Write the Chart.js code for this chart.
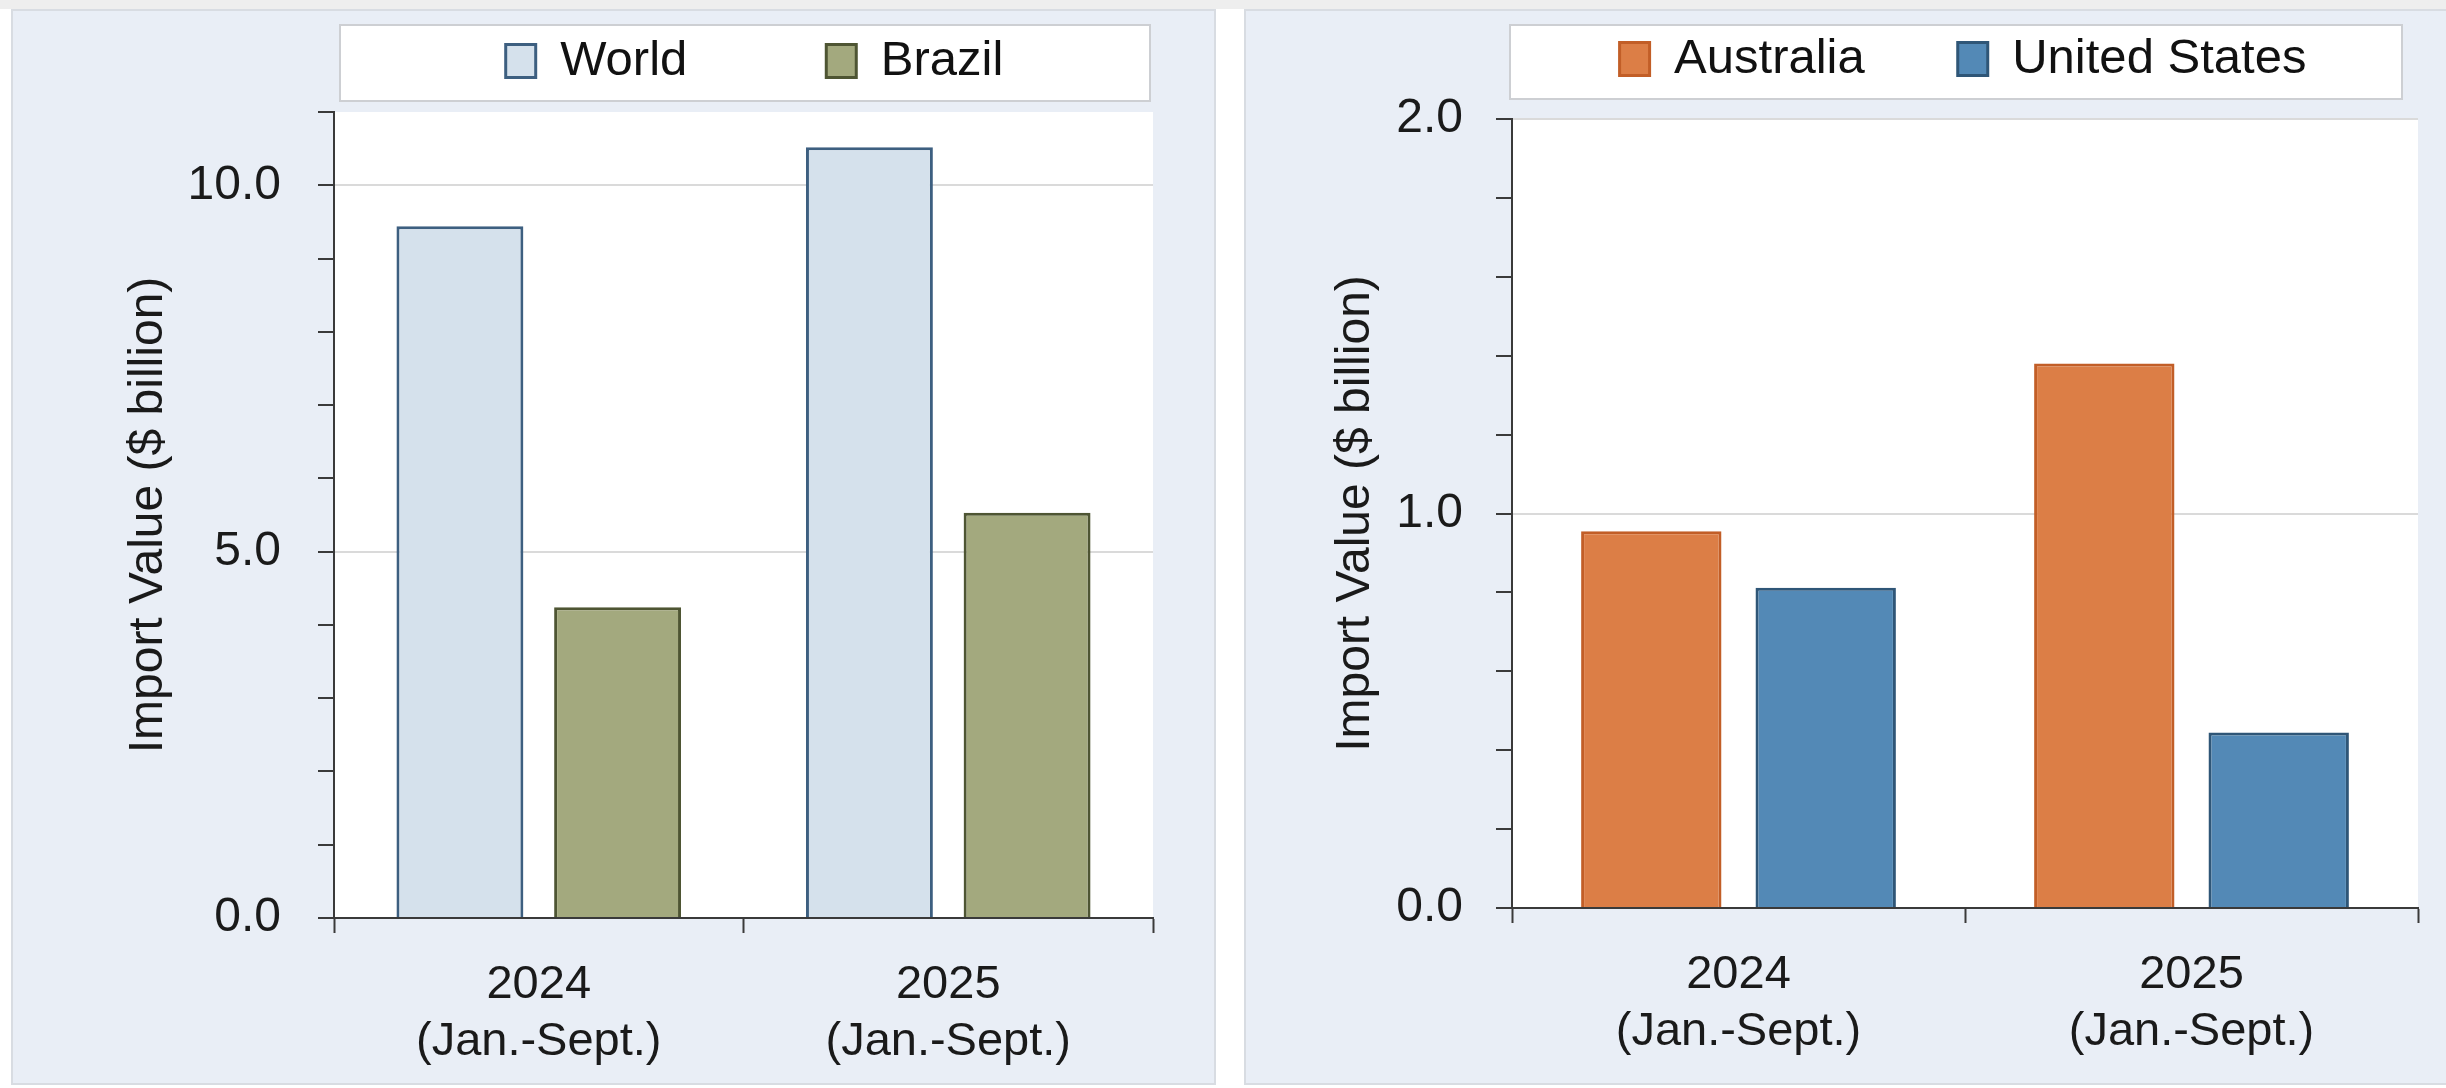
<!DOCTYPE html>
<html>
<head>
<meta charset="utf-8">
<title>Import Value</title>
<script src="https://cdn.jsdelivr.net/npm/chart.js@4.4.1/dist/chart.umd.min.js"></script>
<style>
  html, body { margin: 0; padding: 0; background: #ffffff; }
  body { width: 2446px; height: 1088px; position: relative; overflow: hidden; }
  .strip { position: absolute; left: 0; top: 0; width: 2446px; height: 9px; background: #eeeeee; }
  .panel { position: absolute; top: 9px; height: 1076px; background: #e9eef6; border: 2px solid #d8dce2; box-sizing: border-box; }
  #panelLeft { left: 11px; width: 1205px; }
  #panelRight { left: 1244px; width: 1204px; }
  canvas { position: absolute; top: 10px; }
  #leftChart { left: 12px; }
  #rightChart { left: 1245px; }
</style>
</head>
<body>
<div class="strip"></div>
<div class="panel" id="panelLeft"></div>
<div class="panel" id="panelRight"></div>
<canvas id="leftChart" width="1202" height="1074"></canvas>
<canvas id="rightChart" width="1197" height="1074"></canvas>
<script>
// periods on the x axis
const periodYears = ['2024', '2025'];
const periodNote = '(Jan.-Sept.)';

// left chart, $ billion
const worldValues = [9.44, 10.52];
const brazilValues = [4.24, 5.53];

// right chart, $ billion
const australiaValues = [0.955, 1.38];
const unitedStatesValues = [0.812, 0.445];

const leftTicks = { max: 11, step: 1, major: 5 };
const rightTicks = { max: 2, step: 0.2, major: 1 };

const FONT = "'Liberation Sans', Arial, sans-serif";
const INK = '#1a1a1a';
const AXIS = '#3a3a3a';
Chart.defaults.font.family = FONT;
Chart.defaults.color = INK;

const periodLabels = periodYears.map((y) => [y, periodNote]);

const isMajor = (v, major) => Math.abs(v / major - Math.round(v / major)) < 1e-6;

// white plot area, framed legend, legend recentred over the plot
const panelPlugin = {
  id: 'panelFrame',
  beforeDraw: (chart, args, opts) => {
    const { ctx, chartArea } = chart;
    ctx.save();
    ctx.fillStyle = '#ffffff';
    ctx.fillRect(chartArea.left, chartArea.top, chartArea.right - chartArea.left, chartArea.bottom - chartArea.top);
    const fx = chartArea.left + opts.frameLeft;
    const fw = chartArea.right + opts.frameRight - fx;
    ctx.fillRect(fx, opts.frameTop, fw, opts.frameBottom - opts.frameTop);
    ctx.strokeStyle = '#cdcfd3';
    ctx.lineWidth = 2;
    ctx.strokeRect(fx, opts.frameTop, fw, opts.frameBottom - opts.frameTop);
    ctx.restore();

    const lg = chart.legend;
    const pad = lg.options.labels.padding;
    const itemHeight = lg.options.labels.font.size;
    const cx = (chartArea.left + chartArea.right) / 2 + opts.legendShift;
    lg.left = cx - 500;
    lg.right = cx + 500;
    lg.top = opts.legendMiddle - itemHeight / 2 - pad;
  },
};

const makeChart = (id, series, ticksCfg, layout) => {
  const ctx = document.getElementById(id);
  return new Chart(ctx, {
    type: 'bar',
    data: {
      labels: periodLabels,
      datasets: series.map((s) => ({
        label: s.label,
        data: s.values,
        backgroundColor: s.fill,
        borderColor: s.border,
        borderWidth: 3,
        categoryPercentage: 0.77,
        barPercentage: 0.805,
      })),
    },
    options: {
      responsive: false,
      animation: false,
      devicePixelRatio: 1,
      layout: { padding: { left: 0, right: layout.padRight, top: 0, bottom: 0 } },
      plugins: {
        tooltip: { enabled: false },
        legend: {
          position: 'top',
          maxHeight: layout.top,
          labels: {
            boxWidth: 30,
            boxHeight: 33,
            padding: layout.legendGap,
            color: '#111111',
            font: { size: 49 },
          },
        },
        panelFrame: layout.frame,
      },
      scales: {
        x: {
          afterFit: (scale) => { scale.height = layout.bottomSpace; },
          border: { display: true, color: AXIS, width: 2 },
          grid: {
            drawOnChartArea: false,
            offset: true,
            tickLength: 15,
            tickColor: AXIS,
            tickWidth: 2,
          },
          ticks: {
            color: INK,
            padding: 24,
            maxRotation: 0,
            font: { size: 47, lineHeight: 1.2 },
          },
        },
        y: {
          min: 0,
          max: ticksCfg.max,
          afterFit: (scale) => { scale.width = layout.left; },
          border: { display: true, color: AXIS, width: 2 },
          grid: {
            color: (c) => (c.tick && c.tick.value > 0 && isMajor(c.tick.value, ticksCfg.major) ? '#dadada' : 'rgba(0,0,0,0)'),
            lineWidth: 2,
            tickLength: 16,
            tickColor: AXIS,
            tickWidth: 2,
          },
          ticks: {
            stepSize: ticksCfg.step,
            autoSkip: false,
            padding: layout.tickPad,
            color: INK,
            font: { size: 48 },
            callback: (v) => (isMajor(v, ticksCfg.major) ? Number(v).toFixed(1) : ''),
          },
          title: {
            display: true,
            text: 'Import Value ($ billion)',
            color: INK,
            font: { size: 48, lineHeight: 1.2 },
            padding: { top: layout.titlePad, bottom: 0 },
          },
        },
      },
    },
    plugins: [panelPlugin],
  });
};

makeChart('leftChart', [
  { label: 'World', values: worldValues, fill: '#d5e1ec', border: '#3d5f80' },
  { label: 'Brazil', values: brazilValues, fill: '#a3a97e', border: '#4e5533' },
], leftTicks, {
  left: 322, padRight: 61, top: 102, bottomSpace: 166,
  tickPad: 37, titlePad: 108, legendGap: 139,
  frame: { frameLeft: 6, frameRight: -3, frameTop: 15, frameBottom: 91, legendShift: 11, legendMiddle: 51 },
});

makeChart('rightChart', [
  { label: 'Australia', values: australiaValues, fill: '#dc7e46', border: '#c25e27' },
  { label: 'United States', values: unitedStatesValues, fill: '#5389b6', border: '#2f5677' },
], rightTicks, {
  left: 267, padRight: 24, top: 109, bottomSpace: 176,
  tickPad: 33, titlePad: 82, legendGap: 93,
  frame: { frameLeft: -2, frameRight: -16, frameTop: 15, frameBottom: 89, legendShift: -2, legendMiddle: 49 },
});
</script>
</body>
</html>
